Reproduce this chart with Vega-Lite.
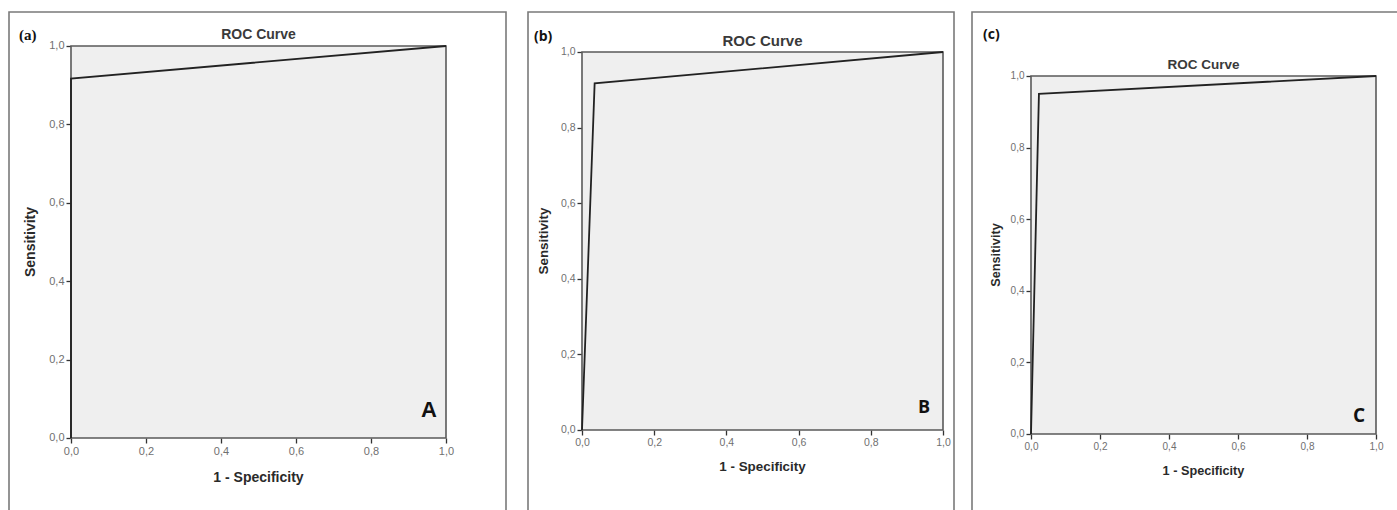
{
  "$schema": "https://vega.github.io/schema/vega-lite/v6.json",
  "padding": {"left": 8, "top": 11, "right": 0, "bottom": 0},
  "background": "white",
  "datasets": {
    "roc": [
      {"panel": "A", "fpr": 0, "tpr": 0},
      {"panel": "A", "fpr": 0, "tpr": 0.917},
      {"panel": "A", "fpr": 1, "tpr": 1},
      {"panel": "B", "fpr": 0, "tpr": 0},
      {"panel": "B", "fpr": 0.035, "tpr": 0.917},
      {"panel": "B", "fpr": 1, "tpr": 1},
      {"panel": "C", "fpr": 0, "tpr": 0},
      {"panel": "C", "fpr": 0.023, "tpr": 0.95},
      {"panel": "C", "fpr": 1, "tpr": 1}
    ]
  },
  "config": {
    "view": {"stroke": "#7a7a7a", "strokeWidth": 1.6},
    "axis": {
      "domain": false, "grid": false, "title": null,
      "labelExpr": "replace(format(datum.value, '.1f'), '.', ',')",
      "labelFont": "Liberation Sans", "labelFontSize": 10.5, "labelColor": "#707070",
      "tickColor": "#333", "tickSize": 5, "tickWidth": 1.3, "labelPadding": 2,
      "labelFlush": false, "labelOverlap": false
    },
    "text": {"font": "Liberation Sans"}
  },
  "hconcat": [
    {
      "width": 497, "height": 510,
      "layer": [
        {"data": {"values": [{}]},
         "mark": {"type": "rect", "fill": "#efefef", "stroke": "#5a5a5a", "strokeWidth": 1.6},
         "encoding": {
           "x": {"datum": 0, "type": "quantitative", "scale": {"domain": [-0.16533, 1.16], "nice": false, "zero": false}, "axis": {"orient": "bottom", "offset": -84, "labelFontSize": 11, "values": [0, 0.2, 0.4, 0.6, 0.8, 1]}},
           "x2": {"datum": 1},
           "y": {"datum": 0, "type": "quantitative", "scale": {"domain": [-0.21429, 1.08673], "nice": false, "zero": false}, "axis": {"orient": "left", "offset": -62, "labelFontSize": 11, "values": [0, 0.2, 0.4, 0.6, 0.8, 1]}},
           "y2": {"datum": 1}
         }},
        {"data": {"name": "roc"}, "transform": [{"filter": "datum.panel === 'A'"}],
         "mark": {"type": "line", "color": "#222", "strokeWidth": 1.8},
         "encoding": {"x": {"field": "fpr", "type": "quantitative"}, "y": {"field": "tpr", "type": "quantitative"}}},
        {"data": {"values": [{}]},
         "mark": {"type": "text", "text": "ROC Curve", "fontSize": 14, "fontWeight": "bold", "color": "#3a3a3a", "baseline": "middle", "dy": -11},
         "encoding": {"x": {"datum": 0.5, "type": "quantitative"}, "y": {"datum": 1, "type": "quantitative"}}},
        {"data": {"values": [{}]},
         "mark": {"type": "text", "text": "1 - Specificity", "fontSize": 14, "fontWeight": "bold", "color": "#2a2a2a", "baseline": "middle", "dy": 40},
         "encoding": {"x": {"datum": 0.5, "type": "quantitative"}, "y": {"datum": 0, "type": "quantitative"}}},
        {"data": {"values": [{}]},
         "mark": {"type": "text", "text": "Sensitivity", "fontSize": 14, "fontWeight": "bold", "color": "#2a2a2a", "angle": 270, "align": "center", "baseline": "middle", "dy": -40},
         "encoding": {"x": {"datum": 0, "type": "quantitative"}, "y": {"datum": 0.5, "type": "quantitative"}}},
        {"data": {"values": [{}]},
         "mark": {"type": "text", "text": "A", "fontSize": 22, "fontWeight": "bold", "color": "#111", "align": "right", "baseline": "alphabetic", "dx": -9, "dy": -21},
         "encoding": {"x": {"datum": 1, "type": "quantitative"}, "y": {"datum": 0, "type": "quantitative"}}},
        {"data": {"values": [{}]},
         "mark": {"type": "text", "text": "(a)", "font": "Liberation Serif", "fontSize": 15, "fontWeight": "bold", "color": "#111", "align": "left", "baseline": "middle", "dx": 10, "dy": 23},
         "encoding": {"x": {"datum": -0.16533, "type": "quantitative"}, "y": {"datum": 1.08673, "type": "quantitative"}}}
      ]
    },
    {
      "spacing": 16,
      "hconcat": [
        {
          "width": 426, "height": 510,
          "layer": [
            {"data": {"values": [{}]},
             "mark": {"type": "rect", "fill": "#efefef", "stroke": "#5a5a5a", "strokeWidth": 1.6},
             "encoding": {
               "x": {"datum": 0, "type": "quantitative", "scale": {"domain": [-0.14958, 1.03047], "nice": false, "zero": false}, "axis": {"orient": "bottom", "offset": -92, "values": [0, 0.2, 0.4, 0.6, 0.8, 1]}},
               "x2": {"datum": 1},
               "y": {"datum": 0, "type": "quantitative", "scale": {"domain": [-0.24339, 1.10582], "nice": false, "zero": false}, "axis": {"orient": "left", "offset": -54, "values": [0, 0.2, 0.4, 0.6, 0.8, 1]}},
               "y2": {"datum": 1}
             }},
            {"data": {"name": "roc"}, "transform": [{"filter": "datum.panel === 'B'"}],
             "mark": {"type": "line", "color": "#222", "strokeWidth": 1.8},
             "encoding": {"x": {"field": "fpr", "type": "quantitative"}, "y": {"field": "tpr", "type": "quantitative"}}},
            {"data": {"values": [{}]},
             "mark": {"type": "text", "text": "ROC Curve", "fontSize": 15, "fontWeight": "bold", "color": "#3a3a3a", "baseline": "middle", "dy": -11},
             "encoding": {"x": {"datum": 0.5, "type": "quantitative"}, "y": {"datum": 1, "type": "quantitative"}}},
            {"data": {"values": [{}]},
             "mark": {"type": "text", "text": "1 - Specificity", "fontSize": 13.4, "fontWeight": "bold", "color": "#2a2a2a", "baseline": "middle", "dy": 37},
             "encoding": {"x": {"datum": 0.5, "type": "quantitative"}, "y": {"datum": 0, "type": "quantitative"}}},
            {"data": {"values": [{}]},
             "mark": {"type": "text", "text": "Sensitivity", "fontSize": 13.4, "fontWeight": "bold", "color": "#2a2a2a", "angle": 270, "align": "center", "baseline": "middle", "dy": -38},
             "encoding": {"x": {"datum": 0, "type": "quantitative"}, "y": {"datum": 0.5, "type": "quantitative"}}},
            {"data": {"values": [{}]},
             "mark": {"type": "text", "text": "B", "font": "Open Sans", "fontSize": 18, "fontWeight": "bold", "color": "#111", "align": "right", "baseline": "alphabetic", "dx": -13, "dy": -17},
             "encoding": {"x": {"datum": 1, "type": "quantitative"}, "y": {"datum": 0, "type": "quantitative"}}},
            {"data": {"values": [{}]},
             "mark": {"type": "text", "text": "(b)", "font": "Open Sans", "fontSize": 14, "fontWeight": "bold", "color": "#111", "align": "left", "baseline": "middle", "dx": 6, "dy": 25},
             "encoding": {"x": {"datum": -0.14958, "type": "quantitative"}, "y": {"datum": 1.10582, "type": "quantitative"}}}
          ]
        },
        {
          "width": 440, "height": 510,
          "layer": [
            {"data": {"values": [{}]},
             "mark": {"type": "rect", "fill": "#efefef", "stroke": "#5a5a5a", "strokeWidth": 1.6},
             "encoding": {
               "x": {"datum": 0, "type": "quantitative", "scale": {"domain": [-0.17101, 1.10435], "nice": false, "zero": false}, "axis": {"orient": "bottom", "offset": -88, "labelFontSize": 10, "values": [0, 0.2, 0.4, 0.6, 0.8, 1]}},
               "x2": {"datum": 1},
               "y": {"datum": 0, "type": "quantitative", "scale": {"domain": [-0.24581, 1.17877], "nice": false, "zero": false}, "axis": {"orient": "left", "offset": -59, "labelFontSize": 10, "values": [0, 0.2, 0.4, 0.6, 0.8, 1]}},
               "y2": {"datum": 1}
             }},
            {"data": {"name": "roc"}, "transform": [{"filter": "datum.panel === 'C'"}],
             "mark": {"type": "line", "color": "#222", "strokeWidth": 1.8},
             "encoding": {"x": {"field": "fpr", "type": "quantitative"}, "y": {"field": "tpr", "type": "quantitative"}}},
            {"data": {"values": [{}]},
             "mark": {"type": "text", "text": "ROC Curve", "fontSize": 13.5, "fontWeight": "bold", "color": "#3a3a3a", "baseline": "middle", "dy": -11},
             "encoding": {"x": {"datum": 0.5, "type": "quantitative"}, "y": {"datum": 1, "type": "quantitative"}}},
            {"data": {"values": [{}]},
             "mark": {"type": "text", "text": "1 - Specificity", "fontSize": 12.7, "fontWeight": "bold", "color": "#2a2a2a", "baseline": "middle", "dy": 37},
             "encoding": {"x": {"datum": 0.5, "type": "quantitative"}, "y": {"datum": 0, "type": "quantitative"}}},
            {"data": {"values": [{}]},
             "mark": {"type": "text", "text": "Sensitivity", "fontSize": 12.7, "fontWeight": "bold", "color": "#2a2a2a", "angle": 270, "align": "center", "baseline": "middle", "dy": -35},
             "encoding": {"x": {"datum": 0, "type": "quantitative"}, "y": {"datum": 0.5, "type": "quantitative"}}},
            {"data": {"values": [{}]},
             "mark": {"type": "text", "text": "C", "font": "Open Sans", "fontSize": 19, "fontWeight": "bold", "color": "#111", "align": "right", "baseline": "alphabetic", "dx": -11, "dy": -12},
             "encoding": {"x": {"datum": 1, "type": "quantitative"}, "y": {"datum": 0, "type": "quantitative"}}},
            {"data": {"values": [{}]},
             "mark": {"type": "text", "text": "(c)", "font": "Open Sans", "fontSize": 14, "fontWeight": "bold", "color": "#111", "align": "left", "baseline": "middle", "dx": 11, "dy": 23},
             "encoding": {"x": {"datum": -0.17101, "type": "quantitative"}, "y": {"datum": 1.17877, "type": "quantitative"}}}
          ]
        }
      ]
    }
  ],
  "spacing": 20
}
